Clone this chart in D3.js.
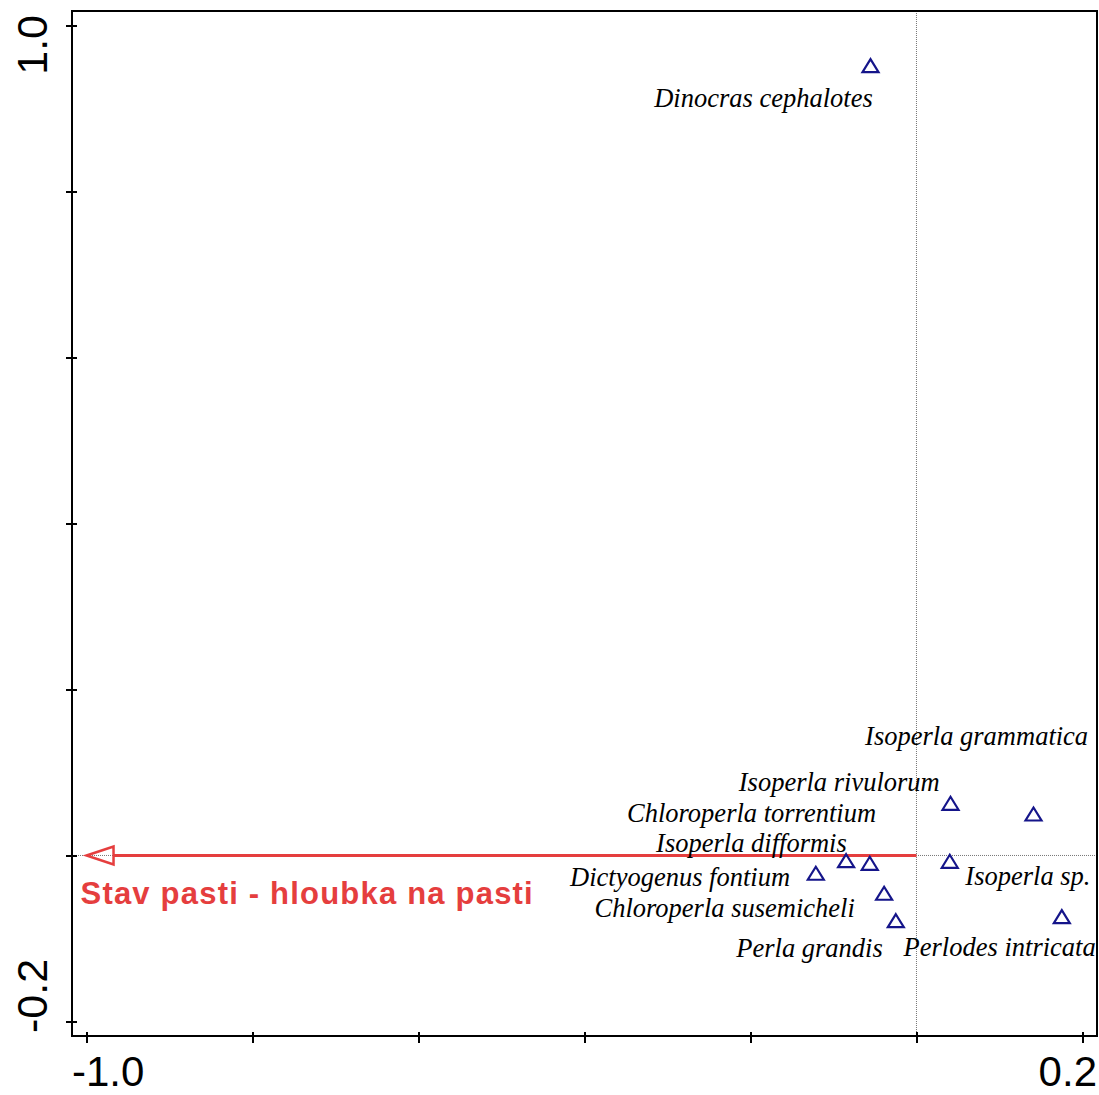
<!DOCTYPE html>
<html>
<head>
<meta charset="utf-8">
<script src="https://cdn.jsdelivr.net/npm/d3@7"></script>
<style>
  html, body { margin: 0; padding: 0; background: #fff; }
  svg { display: block; }
</style>
</head>
<body>
<svg id="chart" width="1099" height="1095"></svg>
<script>
// Species scores (axis 1, axis 2) of the stonefly taxa
const species = [
  "Dinocras cephalotes", "Isoperla grammatica", "Isoperla rivulorum",
  "Chloroperla torrentium", "Isoperla difformis", "Dictyogenus fontium",
  "Isoperla sp.", "Chloroperla susemicheli", "Perla grandis", "Perlodes intricata"
];
const axis1 = [-0.0554, 0.1410, 0.0410, -0.0563, -0.0848, -0.1213, 0.0401, -0.0390, -0.0249, 0.1751];
const axis2 = [0.9516, 0.0500, 0.0629, -0.0094, -0.0063, -0.0214, -0.0070, -0.0455, -0.0786, -0.0737];

// Label anchor points in axis units, with the side the text hangs from
const labelX = [-0.0527, -0.0619, 0.0280, -0.0487, -0.0840, -0.1523, 0.0589, -0.0743, -0.0406, -0.0155];
const labelY = [0.9018, 0.1328, 0.0774, 0.0404, 0.0042, -0.0367, -0.0359, -0.0741, -0.1225, -0.1210];
const labelAnchor = ["end", "start", "end", "end", "end", "end", "start", "end", "end", "start"];

// Environmental variable arrow
const envName = ["Stav pasti - hloubka na pasti"];
const envX = [-1.0];
const envY = [0.0];

// Axis ticks and the labelled extremes
const xTicks = [-1.0, -0.8, -0.6, -0.4, -0.2, 0.0, 0.2];
const yTicks = [-0.2, 0.0, 0.2, 0.4, 0.6, 0.8, 1.0];
const xTickLabels = ["-1.0", "0.2"];
const yTickLabels = ["-0.2", "1.0"];

const svg = d3.select("#chart");
const frameL = 72, frameR = 1097, frameT = 11, frameB = 1036;

const x = d3.scaleLinear().domain([-1.0175, 0.2175]).range([frameL, frameR]);
const y = d3.scaleLinear().domain([-0.2175, 1.0175]).range([frameB, frameT]);

const red = "#e53e3e";
const navy = "#15158a";

// Zero lines (dotted)
svg.append("line")
  .attr("x1", x(0)).attr("x2", x(0)).attr("y1", frameT).attr("y2", frameB)
  .attr("stroke", "#777").attr("stroke-width", 1).attr("stroke-dasharray", "1,1");
svg.append("line")
  .attr("x1", frameL).attr("x2", frameR).attr("y1", y(0)).attr("y2", y(0))
  .attr("stroke", "#777").attr("stroke-width", 1).attr("stroke-dasharray", "1,1");

// Axes with ticks crossing the frame
const xAxis = d3.axisBottom(x).tickValues(xTicks).tickSize(11).tickFormat("");
const gx = svg.append("g").attr("transform", `translate(0,${frameB - 4})`).call(xAxis);
gx.select(".domain").remove();
gx.selectAll(".tick line").attr("stroke", "#000").attr("stroke-width", 2);

const yAxis = d3.axisLeft(y).tickValues(yTicks).tickSize(11).tickFormat("");
const gy = svg.append("g").attr("transform", `translate(${frameL + 5},0)`).call(yAxis);
gy.select(".domain").remove();
gy.selectAll(".tick line").attr("stroke", "#000").attr("stroke-width", 2);

// Frame
svg.append("rect")
  .attr("x", frameL).attr("y", frameT).attr("width", frameR - frameL).attr("height", frameB - frameT)
  .attr("fill", "none").attr("stroke", "#000").attr("stroke-width", 2);

// Extreme tick labels, kept inside the frame span
const tickFont = "Liberation Sans, Arial, sans-serif";
svg.append("text").text(xTickLabels[0])
  .attr("x", frameL).attr("y", 1086)
  .attr("font-family", tickFont).attr("font-size", 42).attr("text-anchor", "start");
svg.append("text").text(xTickLabels[1])
  .attr("x", frameR).attr("y", 1086)
  .attr("font-family", tickFont).attr("font-size", 42).attr("text-anchor", "end");
svg.append("text").text(yTickLabels[0])
  .attr("transform", `translate(47,${frameB - 3}) rotate(-90)`)
  .attr("font-family", tickFont).attr("font-size", 43).attr("text-anchor", "start");
svg.append("text").text(yTickLabels[1])
  .attr("transform", `translate(47,${frameT + 4}) rotate(-90)`)
  .attr("font-family", tickFont).attr("font-size", 43).attr("text-anchor", "end");

// Environmental arrow: shaft from origin, open head at the tip
const headLen = 27, headHalf = 9;
envX.forEach((ex, i) => {
  const x0 = x(0), y0 = y(0), x1 = x(ex), y1 = y(envY[i]);
  const ang = Math.atan2(y1 - y0, x1 - x0);
  const bx = x1 - headLen * Math.cos(ang), by = y1 - headLen * Math.sin(ang);
  svg.append("line")
    .attr("x1", x0).attr("y1", y0).attr("x2", bx).attr("y2", by)
    .attr("stroke", red).attr("stroke-width", 3);
  const px = -Math.sin(ang) * headHalf, py = Math.cos(ang) * headHalf;
  svg.append("path")
    .attr("d", `M${x1},${y1}L${bx + px},${by + py}L${bx - px},${by - py}Z`)
    .attr("fill", "none").attr("stroke", red).attr("stroke-width", 2.5)
    .attr("stroke-linejoin", "miter");
  svg.append("text").text(envName[i])
    .attr("x", x1 - 6).attr("y", y1 + 49)
    .attr("font-family", "Liberation Sans, Arial, sans-serif")
    .attr("font-weight", "bold").attr("font-size", 31)
    .attr("letter-spacing", 1.2)
    .attr("fill", red);
});

// Species labels
svg.append("g").selectAll("text")
  .data(species)
  .join("text")
  .attr("x", (d, i) => x(labelX[i]))
  .attr("y", (d, i) => y(labelY[i]))
  .attr("text-anchor", (d, i) => labelAnchor[i])
  .attr("font-family", "Liberation Serif, 'Times New Roman', serif")
  .attr("font-style", "italic")
  .attr("font-size", 26.5)
  .attr("fill", "#000")
  .text(d => d);

// Species points: open triangles
const tri = "M0,-6.5L8,6.5L-8,6.5Z";
svg.append("g").selectAll("path")
  .data(species)
  .join("path")
  .attr("d", tri)
  .attr("transform", (d, i) => `translate(${x(axis1[i])},${y(axis2[i])})`)
  .attr("fill", "none")
  .attr("stroke", navy)
  .attr("stroke-width", 2.2)
  .attr("stroke-linejoin", "miter");
</script>
</body>
</html>
